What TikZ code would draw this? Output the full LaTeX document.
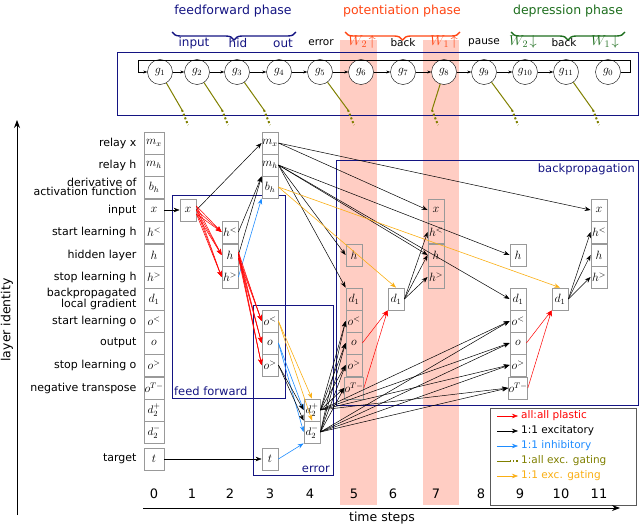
\documentclass[tikz,border=0pt]{standalone}
\usepackage{fontspec}
\setmainfont{DejaVu Sans}
\usetikzlibrary{arrows.meta,decorations.pathreplacing}
\definecolor{nblue}{RGB}{20,20,130}
\definecolor{pink}{RGB}{255,205,195}
\definecolor{olive}{RGB}{128,128,0}
\definecolor{ored}{RGB}{255,70,20}
\definecolor{dgreen}{RGB}{30,110,30}
\definecolor{orng}{RGB}{250,175,20}
\definecolor{iblue}{RGB}{30,140,255}
\begin{document}
\begin{tikzpicture}[x=1pt,y=-1pt,font=\fontsize{10.5}{10}\selectfont,
  cell/.style={draw=gray!80,line width=0.8pt,fill=white,minimum width=16pt,minimum height=22pt,inner sep=0pt,font=\fontsize{12}{10}\selectfont},
  cell0/.style={cell,minimum width=20pt},
  dcell/.style={font=\fontsize{11}{9}\selectfont},
  gate/.style={draw,circle,minimum size=25pt,inner sep=0pt,fill=white,font=\fontsize{12}{10}\selectfont},
  frame/.style={draw=nblue,line width=0.7pt},
  ex/.style={-{Stealth[length=6pt]},black,line width=0.5pt},
  pl/.style={-{Stealth[length=6pt]},red,line width=0.5pt},
  inh/.style={-{Stealth[length=6pt]},iblue,line width=0.6pt},
  eg/.style={-{Stealth[length=6pt]},orng,line width=0.6pt},
  brc/.style={decorate,decoration={brace,amplitude=8pt},line width=1.4pt},
  lab/.style={anchor=east,align=right,font=\fontsize{11}{9.5}\selectfont}]
\useasboundingbox (0,0) rectangle (640,527);
% pink bands
\fill[pink] (340,40) rectangle (377,505);
\fill[pink] (423,40) rectangle (459,505);
% frames
\draw[frame] (117,52) rectangle (638,115);
\draw[frame] (172,195) rectangle (285,398);
\draw[frame] (253,305) rectangle (333,475);
\draw[frame] (336,160) rectangle (638,405);
\node[nblue,anchor=south west,font=\fontsize{11.5}{10}\selectfont,inner sep=1pt] (fflab) at (173,397) {feed forward};
\node[nblue,anchor=south east,font=\fontsize{11.5}{10}\selectfont,inner sep=1pt] (errlab) at (331,474) {error};
\node[nblue,anchor=north east,font=\fontsize{11.5}{10}\selectfont,inner sep=1pt] (bplab) at (636,163) {backpropagation};
% top labels
\node[nblue,font=\fontsize{12.5}{11}\selectfont] (ffp) at (233,11) {feedforward phase};
\draw[brc,nblue] (296,32) -- (172,32);
\node[ored,font=\fontsize{12.5}{11}\selectfont] (pp) at (402,11) {potentiation phase};
\draw[brc,ored] (460,32) -- (345,32);
\node[dgreen,font=\fontsize{12.5}{11}\selectfont] (dp) at (568,11) {depression phase};
\draw[brc,dgreen] (625,32) -- (511,32);
\foreach \xx/\tt in {194/input,238/hid,283/out}{\node[nblue,font=\fontsize{12}{10}\selectfont] at (\xx,43) {\tt};}
\node (terr) at (321,43) {error};
\node (tb1) at (403,43) {back};
\node (tp) at (484,43) {pause};
\node (tb2) at (564,43) {back};
\node[ored,font=\fontsize{14}{12}\selectfont] (tw2u) at (362,42) {$W_2\!\uparrow$};
\node[ored,font=\fontsize{14}{12}\selectfont] (tw1u) at (444,42) {$W_1\!\uparrow$};
\node[dgreen,font=\fontsize{14}{12}\selectfont] (tw2d) at (523,42) {$W_2\!\downarrow$};
\node[dgreen,font=\fontsize{14}{12}\selectfont] (tw1d) at (605,42) {$W_1\!\downarrow$};
% gates
\foreach \i/\xx in {1/160,2/197,3/237,4/279,5/320,6/361,7/403,8/444,9/484,10/525,11/566,0/608}{\node[gate] (g\i) at (\xx,72) {$g_{\i}$};}
\foreach \a/\b in {1/2,2/3,3/4,4/5,5/6,6/7,7/8,8/9,9/10,10/11}{\draw[-{Stealth[length=4pt]}] (g\a) -- (g\b);}
\coordinate (lp1) at (630,72); \coordinate (lp2) at (630,60); \coordinate (lp3) at (138,60); \coordinate (lp4) at (138,72);
\draw[-{Stealth[length=4pt]}] (g0) -- (lp1) -- (lp2) -- (lp3) -- (lp4) -- (g1);
\foreach \i/\xx in {1/188,2/228,3/270,5/354,8/438,9/518,11/599}{
  \coordinate (ge\i) at (\xx-6,110); \coordinate (gd\i) at (\xx,125);
  \draw[olive,line width=1pt] (g\i) -- (ge\i);
  \draw[olive,line width=2pt,dotted] (ge\i) -- (gd\i);}
% column 0
\foreach \n/\m/\yy/\l in {mx/m_x/143/relay x,mh/m_h/165/relay h,bh/b_h/187/{derivative of\\activation function},x/x/210/input,hl/h^{<}/232/start learning h,h/h/255/hidden layer,hg/h^{>}/277/stop learning h,d/d_1/299/{backpropagated\\local gradient},ol/o^{<}/321/start learning o,o/o/343/output,og/o^{>}/365/stop learning o,ot/o^{T-}/388/negative transpose,t/t/459/target}{
  \node[cell0] (c0\n) at (154,\yy) {$\m$};
  \node[lab] (l\n) at (140,\yy) {\l};}
\node[cell0,dcell] (c0dp) at (154,410) {$d_2^+$};
\node[cell0,dcell] (c0dm) at (154,432) {$d_2^-$};
% other columns
\node[cell] (c1x) at (188,210) {$x$};
\foreach \n/\m/\yy in {hl/h^{<}/232,h/h/255,hg/h^{>}/277}{\node[cell] (c2\n) at (230,\yy) {$\m$};}
\foreach \n/\m/\yy in {mx/m_x/143,mh/m_h/165,bh/b_h/187,ol/o^{<}/321,o/o/343,og/o^{>}/365,t/t/459}{\node[cell] (c3\n) at (270,\yy) {$\m$};}
\node[cell,dcell] (c4dp) at (312,410) {$d_2^+$};
\node[cell,dcell] (c4dm) at (312,432) {$d_2^-$};
\foreach \n/\m/\yy in {h/h/255,d/d_1/299,ol/o^{<}/321,o/o/343,og/o^{>}/365,ot/o^{T-}/388}{\node[cell,fill=pink] (c5\n) at (354,\yy) {$\m$};}
\node[cell] (c6d) at (396,299) {$d_1$};
\foreach \n/\m/\yy in {x/x/210,hl/h^{<}/232,h/h/255,hg/h^{>}/277}{\node[cell,fill=pink] (c7\n) at (436,\yy) {$\m$};}
\foreach \n/\m/\yy in {h/h/255,d/d_1/299,ol/o^{<}/321,o/o/343,og/o^{>}/365,ot/o^{T-}/388}{\node[cell] (c9\n) at (518,\yy) {$\m$};}
\node[cell] (c10d) at (560,299) {$d_1$};
\foreach \n/\m/\yy in {x/x/210,hl/h^{<}/232,h/h/255,hg/h^{>}/277}{\node[cell] (c11\n) at (599,\yy) {$\m$};}
% connections
\draw[ex] (c0x) -- (c1x);
\draw[ex] (c0t) -- (c3t);
\draw[ex] (c1x.east) -- (c3mx.west);
\foreach \tt in {hl,h,hg}{\foreach \dy in {-4,0,4}{\draw[pl] ([yshift=\dy]c1x.east) -- (c2\tt.west);}}
\draw[ex] (c2hl.east) -- (c3mh.south west);
\draw[ex] (c2h.east) -- (c3mh.south west);
\draw[inh] (c2hg.east) -- (c3bh.south west);
\foreach \tt in {ol,o,og}{\foreach \dy in {-3,0,3}{\draw[pl] ([yshift=\dy]c2h.east) -- (c3\tt.west);}}
\draw[eg] (c3ol.east) -- (c4dp.north);
\draw[eg] (c3ol.east) -- (c4dm.north);
\draw[inh] (c3o.east) -- (c4dp.west);
\draw[inh] (c3o.east) -- (c4dm.west);
\draw[ex] (c3og.east) -- (c4dp.west);
\draw[ex] (c3og.east) -- (c4dm.north west);
\draw[inh] (c3t.east) -- (c4dm.south west);
\foreach \tt in {ol,o,og,ot}{
  \draw[ex] (c4dp.east) -- (c5\tt.west);
  \draw[ex] (c4dm.east) -- (c5\tt.west);
  \draw[ex] (c4dp.east) -- (c9\tt.west);
  \draw[ex] (c4dm.east) -- (c9\tt.west);}
\draw[ex] (c3mx.east) -- (c7x.west);
\draw[ex] (c3mx.east) -- (c11x.west);
\draw[ex] (c3mh.east) -- (c5d.north west);
\draw[ex] (c3mh.east) -- (c5h.west);
\draw[ex] (c3mh.east) -- (c7h.west);
\draw[ex] (c3mh.east) -- (c9h.west);
\draw[ex] (c3mh.east) -- (c9d.west);
\draw[eg] (c3bh.east) -- (c6d.north);
\draw[eg] (c3bh.east) -- (c10d.north);
\draw[pl] (c5o.east) -- (c6d.south west);
\draw[pl] (c5ot.east) -- (c6d.south west);
\draw[pl] (c9o.east) -- (c10d.south west);
\draw[pl] (c9ot.east) -- (c10d.south west);
\foreach \tt in {hl,h,hg}{\draw[ex] (c6d.east) -- (c7\tt.west); \draw[ex] (c10d.east) -- (c11\tt.west);}
% legend
\node[draw=gray!70!black,line width=0.7pt,fill=white,minimum width=146pt,minimum height=97pt] (leg) at (563,456.5) {};
\foreach \yy/\c/\tt/\st in {416/red/all:all plastic/pl,431/black/1:1 excitatory/ex,446/iblue/1:1 inhibitory/inh,476/orng/1:1 exc. gating/eg}{
  \coordinate (la\yy) at (497,\yy); \coordinate (lb\yy) at (518,\yy);
  \draw[\st] (la\yy) -- (lb\yy);
  \node[anchor=west,text=\c,inner sep=1pt,font=\fontsize{10.5}{10}\selectfont] at (520,\yy) {\tt};}
\coordinate (la461) at (497,461); \coordinate (lm461) at (510,461); \coordinate (lb461) at (518,461);
\draw[olive,line width=0.8pt] (la461) -- (lm461);
\draw[olive,line width=1.2pt,dotted] (lm461) -- (lb461);
\node[anchor=west,text=olive,inner sep=1pt,font=\fontsize{10.5}{10}\selectfont] at (520,461) {1:all exc. gating};
% axes
\coordinate (ya) at (17,515); \coordinate (yb) at (17,120);
\draw[-{Stealth[length=8pt]},line width=0.8pt] (ya) -- (yb);
\node[rotate=90,font=\fontsize{12.5}{11}\selectfont] (ylab) at (7,320) {layer identity};
\coordinate (xa) at (143,508); \coordinate (xb) at (620,508);
\draw[-{Stealth[length=8pt]},line width=0.8pt] (xa) -- (xb);
\node[font=\fontsize{12.5}{11}\selectfont] (xlab) at (382,518) {time steps};
\foreach \i/\xx in {0/154,1/192,2/230,3/270,4/310,5/354,6/393,7/436,8/481,9/520,10/561,11/599}{\node[font=\fontsize{13}{11}\selectfont] at (\xx,494) {\i};}
\end{tikzpicture}
\end{document}
